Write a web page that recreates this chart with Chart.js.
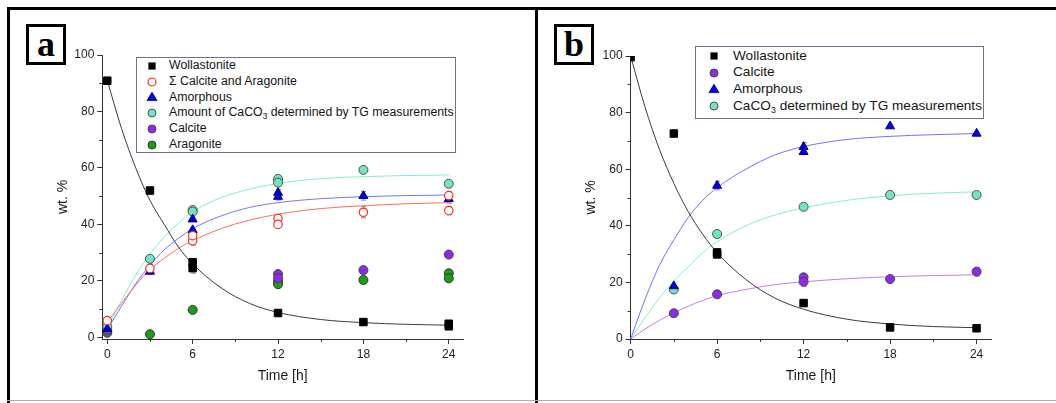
<!DOCTYPE html>
<html>
<head>
<meta charset="utf-8">
<script src="https://cdn.jsdelivr.net/npm/chart.js@4.4.0/dist/chart.umd.min.js"></script>
<style>
body { margin: 0; background: #fff; width: 1056px; height: 403px; position: relative; overflow: hidden;
       font-family: "Liberation Sans", Arial, sans-serif; }
.bar { position: absolute; background: #000; }
.panel { position: absolute; }
.tag { position: absolute; width: 34px; height: 35px; border: 3px solid #000; background: #fff;
       font: bold 36px "Liberation Serif", "Times New Roman", serif; text-align: center; line-height: 34px; }
.legend { position: absolute; border: 1px solid #707090; background: #fff; color: #151515; }
.legend .row { position: relative; white-space: nowrap; }
.legend svg { position: absolute; top: 50%; transform: translate(-50%, -50%); }
.legend sub { font-size: 0.68em; vertical-align: -0.3em; line-height: 0; }
</style>
</head>
<body>
<div class="bar" style="left:7px;top:7px;width:1049px;height:3px"></div>
<div class="bar" style="left:7px;top:7px;width:3px;height:396px"></div>
<div class="bar" style="left:535px;top:7px;width:3px;height:396px"></div>
<div class="bar" style="left:7px;top:400px;width:1049px;height:1px;background:#b0b0b0"></div>

<div class="panel" style="left:10px;top:10px;width:525px;height:390px"><canvas id="chartA"></canvas></div>
<div class="panel" style="left:538px;top:10px;width:518px;height:390px"><canvas id="chartB"></canvas></div>

<div class="tag" style="left:26px;top:24px">a</div>
<div class="tag" style="left:554px;top:24px">b</div>

<div class="legend" id="legendA" style="left:136px;top:57px;width:318px;height:94px;font-size:12.3px;line-height:15.8px"></div>
<div class="legend" id="legendB" style="left:695px;top:46px;width:287px;height:70px;font-size:13.6px;line-height:16.7px;padding-top:0.5px"></div>

<script>
// axes
const xTicks = [0, 6, 12, 18, 24];
const xMinor = [3, 9, 15, 21];
const yTicks = [0, 20, 40, 60, 80, 100];
const yMinor = [10, 30, 50, 70, 90];

// panel a, measured points [time h, wt.%, error]
const wollA = [[0, 90.9], [3, 52.0, 1], [6, 26.6, 1], [6, 24.5, 1.8], [12, 8.6, 0.8], [18, 5.4], [24, 4.8, 0.8], [24, 3.9]];
const sumA = [[0, 5.9], [3, 24.4, 1.5], [6, 34.2, 1.5], [6, 36.0], [12, 42.1, 1.5], [12, 40.0], [18, 44.3, 2], [24, 50.2, 1.5], [24, 44.9, 1.5]];
const amorphA = [[0, 3.0], [3, 23.3, 1], [6, 41.8], [6, 38.0], [12, 51.2, 1.2], [12, 49.8, 1.2], [18, 50.1, 1.5], [24, 49.0, 1.5]];
const tgA = [[0, 3.8], [3, 27.8], [6, 45.1], [6, 44.5], [12, 56.1], [12, 54.8], [18, 59.3], [24, 54.4]];
const calciteA = [[0, 2.5], [12, 22.4, 1], [12, 20.9], [18, 23.8, 1], [24, 29.3]];
const aragA = [[0, 1.6], [3, 1.1], [6, 9.7], [12, 19.7, 1], [12, 18.8], [18, 20.3], [24, 22.7], [24, 20.9, 1]];

// panel a, fitted curves [time h, wt.%]
const wollFitA = [[0, 91], [1, 74], [2, 60], [3, 48.5], [4, 40], [5, 32], [6, 26], [8, 17.5], [10, 12], [12, 8.8], [15, 6.3], [18, 5.2], [21, 4.6], [24, 4.3]];
const sumFitA = [[0, 5.5], [1, 12], [2, 18.5], [3, 24], [4, 28], [5, 31.5], [6, 34.2], [8, 38.5], [10, 41.5], [12, 43.6], [15, 45.6], [18, 46.6], [21, 47.3], [24, 47.7]];
const amorphFitA = [[0, 2.8], [1, 11], [2, 19], [3, 25.5], [4, 31], [5, 35], [6, 38.5], [8, 43], [10, 46], [12, 47.7], [15, 49.1], [18, 49.8], [21, 50.2], [24, 50.4]];
const tgFitA = [[0, 3], [1, 13], [2, 22], [3, 29.5], [4, 35.5], [5, 40.5], [6, 44.5], [8, 49.5], [10, 52.5], [12, 54.5], [15, 56.2], [18, 56.9], [21, 57.3], [24, 57.5]];

// panel b, measured points
const wollB = [[0, 99.6], [3, 72.6], [6, 30.6, 1], [6, 29.9], [12, 12.7], [18, 4.1], [24, 3.8]];
const calciteB = [[3, 9.1], [6, 15.8], [12, 21.8], [12, 20.2, 1.5], [18, 21.2], [24, 23.8, 1.5]];
const amorphB = [[3, 18.7], [6, 54.2, 1.5], [12, 67.9, 1.5], [12, 66.1], [18, 75.2], [24, 72.6]];
const tgB = [[3, 17.5], [6, 37.1], [12, 46.7], [18, 50.9], [24, 50.9]];

// panel b, fitted curves
const wollFitB = [[0, 100], [1, 82], [2, 67], [3, 55], [4, 45], [5, 37], [6, 30.5], [8, 21], [10, 14.5], [12, 10.5], [15, 7], [18, 5.3], [21, 4.4], [24, 4]];
const calFitB = [[0, 0], [1, 3.5], [2, 6.6], [3, 9.2], [4, 11.6], [5, 13.6], [6, 15.3], [8, 17.5], [10, 19.2], [12, 20.2], [15, 21.3], [18, 22], [21, 22.4], [24, 22.7]];
const amorphFitB = [[0, 0], [1, 14], [2, 26], [3, 35], [4, 43], [5, 49], [6, 53.5], [8, 60], [10, 65], [12, 68], [15, 70.5], [18, 71.6], [21, 72.2], [24, 72.6]];
const tgFitB = [[0, 0], [1, 7.5], [2, 14.5], [3, 20.5], [4, 25.5], [5, 30.5], [6, 34.4], [8, 40], [10, 43.8], [12, 46.3], [15, 49], [18, 50.6], [21, 51.5], [24, 52]];

const labelsA = ['Wollastonite', 'Σ Calcite and Aragonite', 'Amorphous',
  'Amount of CaCO<sub>3</sub> determined by TG measurements', 'Calcite', 'Aragonite'];
const labelsB = ['Wollastonite', 'Calcite', 'Amorphous', 'CaCO<sub>3</sub> determined by TG measurements'];

// marker looks
const M = {
  woll:    { pointStyle: 'rect', pointRadius: 5.3, backgroundColor: '#000', borderColor: '#000', borderWidth: 1 },
  sum:     { pointStyle: 'circle', pointRadius: 4.2, backgroundColor: '#fff', borderColor: '#ff2d1e', borderWidth: 1.2 },
  amorph:  { pointStyle: 'triangle', pointRadius: 5.2, backgroundColor: '#0000e0', borderColor: '#00007a', borderWidth: 1 },
  tg:      { pointStyle: 'circle', pointRadius: 4.5, backgroundColor: '#70e6c2', borderColor: '#505050', borderWidth: 1 },
  calcite: { pointStyle: 'circle', pointRadius: 4.5, backgroundColor: '#8d2be6', borderColor: '#444', borderWidth: 1 },
  arag:    { pointStyle: 'circle', pointRadius: 4.5, backgroundColor: '#1f9c1a', borderColor: '#333', borderWidth: 1 }
};

Chart.defaults.font.family = '"Liberation Sans", Arial, sans-serif';

function pts(arr) {
  return arr.map(p => ({ x: p[0], y: p[1], e: p[2] || 0 }));
}
function marks(arr, style) {
  return Object.assign({ data: pts(arr), showLine: false, order: 0 }, style);
}
function fit(arr, color) {
  return { data: pts(arr), showLine: true, borderColor: color, borderWidth: 1, pointRadius: 0,
           cubicInterpolationMode: 'monotone', order: 10 };
}

// error bars + minor ticks
const extras = {
  id: 'extras',
  beforeDatasetsDraw(chart) {
    const { ctx, scales: { x, y } } = chart;
    ctx.save();
    ctx.strokeStyle = '#8a8a8a';
    ctx.lineWidth = 1;
    ctx.beginPath();
    chart.data.datasets.forEach(ds => {
      if (ds.showLine) return;
      ds.data.forEach(p => {
        if (!p.e) return;
        const px = Math.round(x.getPixelForValue(p.x)) + 0.5;
        const y1 = y.getPixelForValue(p.y - p.e), y2 = y.getPixelForValue(p.y + p.e);
        ctx.moveTo(px, y1); ctx.lineTo(px, y2);
        ctx.moveTo(px - 2.5, y1); ctx.lineTo(px + 2.5, y1);
        ctx.moveTo(px - 2.5, y2); ctx.lineTo(px + 2.5, y2);
      });
    });
    ctx.stroke();
    ctx.restore();
  },
  afterDraw(chart) {
    const { ctx, scales: { x, y }, chartArea: a } = chart;
    ctx.save();
    ctx.strokeStyle = '#333';
    ctx.lineWidth = 1;
    ctx.beginPath();
    xMinor.forEach(v => {
      const px = Math.round(x.getPixelForValue(v)) + 0.5;
      ctx.moveTo(px, a.bottom); ctx.lineTo(px, a.bottom + 3);
    });
    yMinor.forEach(v => {
      const py = Math.round(y.getPixelForValue(v)) + 0.5;
      ctx.moveTo(a.left, py); ctx.lineTo(a.left - 3, py);
    });
    ctx.stroke();
    ctx.restore();
  }
};

function makeChart(id, datasets, opt) {
  return new Chart(document.getElementById(id), {
    type: 'scatter',
    data: { datasets: datasets },
    plugins: [extras],
    options: {
      responsive: true,
      maintainAspectRatio: false,
      animation: false,
      layout: { padding: { left: 0, right: opt.padRight, top: opt.padTop, bottom: 0 } },
      plugins: { legend: { display: false }, tooltip: { enabled: false } },
      scales: {
        x: {
          type: 'linear', min: opt.xMin, max: 25,
          afterBuildTicks: s => { s.ticks = xTicks.map(v => ({ value: v })); },
          afterFit: s => { s.height = 61; },
          grid: { drawOnChartArea: false, tickLength: 5, tickColor: '#333' },
          border: { color: '#333', width: 1 },
          ticks: { color: '#222', font: { size: 12 }, padding: 3, maxRotation: 0 },
          title: { display: true, text: 'Time [h]', color: '#1a1a1a', font: { size: 14 }, padding: { top: 0, bottom: 15.6 } }
        },
        y: {
          type: 'linear', min: opt.yMin, max: 100,
          afterBuildTicks: s => { s.ticks = yTicks.map(v => ({ value: v })); },
          afterFit: s => { s.width = opt.yWidth; },
          grid: { drawOnChartArea: false, tickLength: 5, tickColor: '#333' },
          border: { color: '#333', width: 1 },
          ticks: { color: '#222', font: { size: 12 }, padding: 3 },
          title: { display: true, text: 'wt. %', color: '#1a1a1a', font: { size: 14 }, padding: { top: opt.yTitle, bottom: 0 } }
        }
      }
    }
  });
}

makeChart('chartA', [
  marks(wollA, M.woll), marks(sumA, M.sum), marks(amorphA, M.amorph),
  marks(tgA, M.tg), marks(calciteA, M.calcite), marks(aragA, M.arag),
  fit(wollFitA, '#3a3a3a'), fit(sumFitA, '#ff6b5c'), fit(amorphFitA, '#7474ff'), fit(tgFitA, '#7ff0c4')
], { xMin: -0.35, yMin: -0.6, padRight: 72, padTop: 45, yWidth: 92.3, yTitle: 44.3 });

makeChart('chartB', [
  marks(wollB, M.woll), marks(amorphB, M.amorph), marks(tgB, M.tg), marks(calciteB, M.calcite),
  fit(wollFitB, '#3a3a3a'), fit(calFitB, '#c27af2'), fit(amorphFitB, '#7070ff'), fit(tgFitB, '#80f0c8')
], { xMin: 0, yMin: 0, padRight: 65, padTop: 46, yWidth: 92.6, yTitle: 44.6 });

// legends
function symbol(st) {
  const s = 14, c = s / 2;
  let shape;
  if (st.pointStyle === 'rect') {
    shape = `<rect x="${c - 3.6}" y="${c - 3.6}" width="7.2" height="7.2" fill="${st.backgroundColor}"/>`;
  } else if (st.pointStyle === 'triangle') {
    shape = `<polygon points="${c},${c - 4.8} ${c + 5},${c + 3.6} ${c - 5},${c + 3.6}" fill="${st.backgroundColor}" stroke="${st.borderColor}" stroke-width="0.8"/>`;
  } else {
    shape = `<circle cx="${c}" cy="${c}" r="4" fill="${st.backgroundColor}" stroke="${st.borderColor}" stroke-width="${st.borderWidth}"/>`;
  }
  return `<svg width="${s}" height="${s}">${shape}</svg>`;
}
function fillLegend(id, labels, styles, symX, textX) {
  const box = document.getElementById(id);
  labels.forEach((lab, i) => {
    const row = document.createElement('div');
    row.className = 'row';
    row.style.paddingLeft = textX + 'px';
    row.innerHTML = symbol(styles[i]).replace('<svg', `<svg style="left:${symX}px"`) + lab;
    box.appendChild(row);
  });
}
fillLegend('legendA', labelsA, [M.woll, M.sum, M.amorph, M.tg, M.calcite, M.arag], 15, 32);
fillLegend('legendB', labelsB, [M.woll, M.calcite, M.amorph, M.tg], 17.5, 37);
</script>
</body>
</html>
